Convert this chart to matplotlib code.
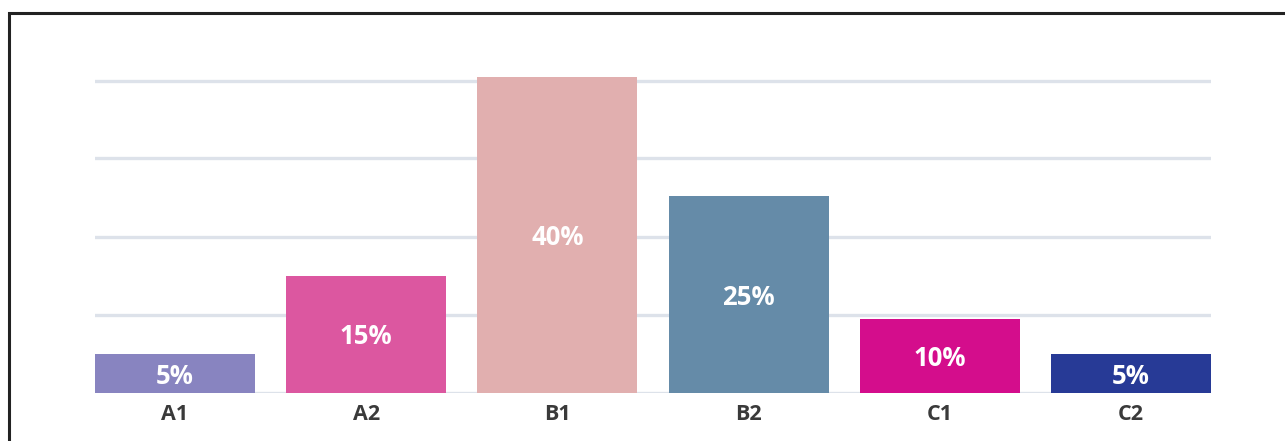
import matplotlib
matplotlib.use("Agg")
import matplotlib.pyplot as plt
from matplotlib.patches import Rectangle

categories = ["A1", "A2", "B1", "B2", "C1", "C2"]
values = [5.0, 15.0, 40.4, 25.2, 9.4, 5.0]
value_labels = ["5%", "15%", "40%", "25%", "10%", "5%"]
colors = ["#8884c0", "#dc57a0", "#e1afaf", "#658ba8", "#d40d8c", "#273a96"]
grid_ticks = [0, 10, 20, 30, 40]

W, H = 1285, 441
fig = plt.figure(figsize=(W / 100, H / 100), dpi=100)
fig.patch.set_facecolor("white")

# outer frame
fig.patches.append(Rectangle((9.0 / W, -0.1), 1.2, (H - 13) / H + 0.1,
                             transform=fig.transFigure, fill=False,
                             edgecolor="#222222", linewidth=2.2))

y0 = 392.5
px_per_unit = 7.8
ymax = 45
left, right = 95 / W, 1211 / W
bottom = (H - y0) / H
top = (H - (y0 - ymax * px_per_unit)) / H
ax = fig.add_axes([left, bottom, right - left, top - bottom])

width = 160 / 191.2
x = list(range(len(categories)))
ax.set_xlim(-width / 2, len(categories) - 1 + width / 2)
ax.set_ylim(0, ymax)

for g in grid_ticks:
    ax.axhline(g, color="#dde2ea", linewidth=2.4, zorder=0)

bars = ax.bar(x, values, width=width, color=colors, zorder=2)
for xi, v, lab in zip(x, values, value_labels):
    ax.text(xi, v / 2, lab, ha="center", va="center_baseline", color="white",
            fontsize=18.5, fontweight="bold", family="Open Sans", zorder=3)

ax.set_xticks(x)
ax.set_xticklabels(categories, fontsize=15.5, fontweight="bold",
                   family="Open Sans", color="#3a3a3a")
ax.tick_params(axis="x", length=0, pad=8)
ax.set_yticks([])
for s in ax.spines.values():
    s.set_visible(False)
ax.patch.set_alpha(0)

fig.savefig("out.png", dpi=100)
